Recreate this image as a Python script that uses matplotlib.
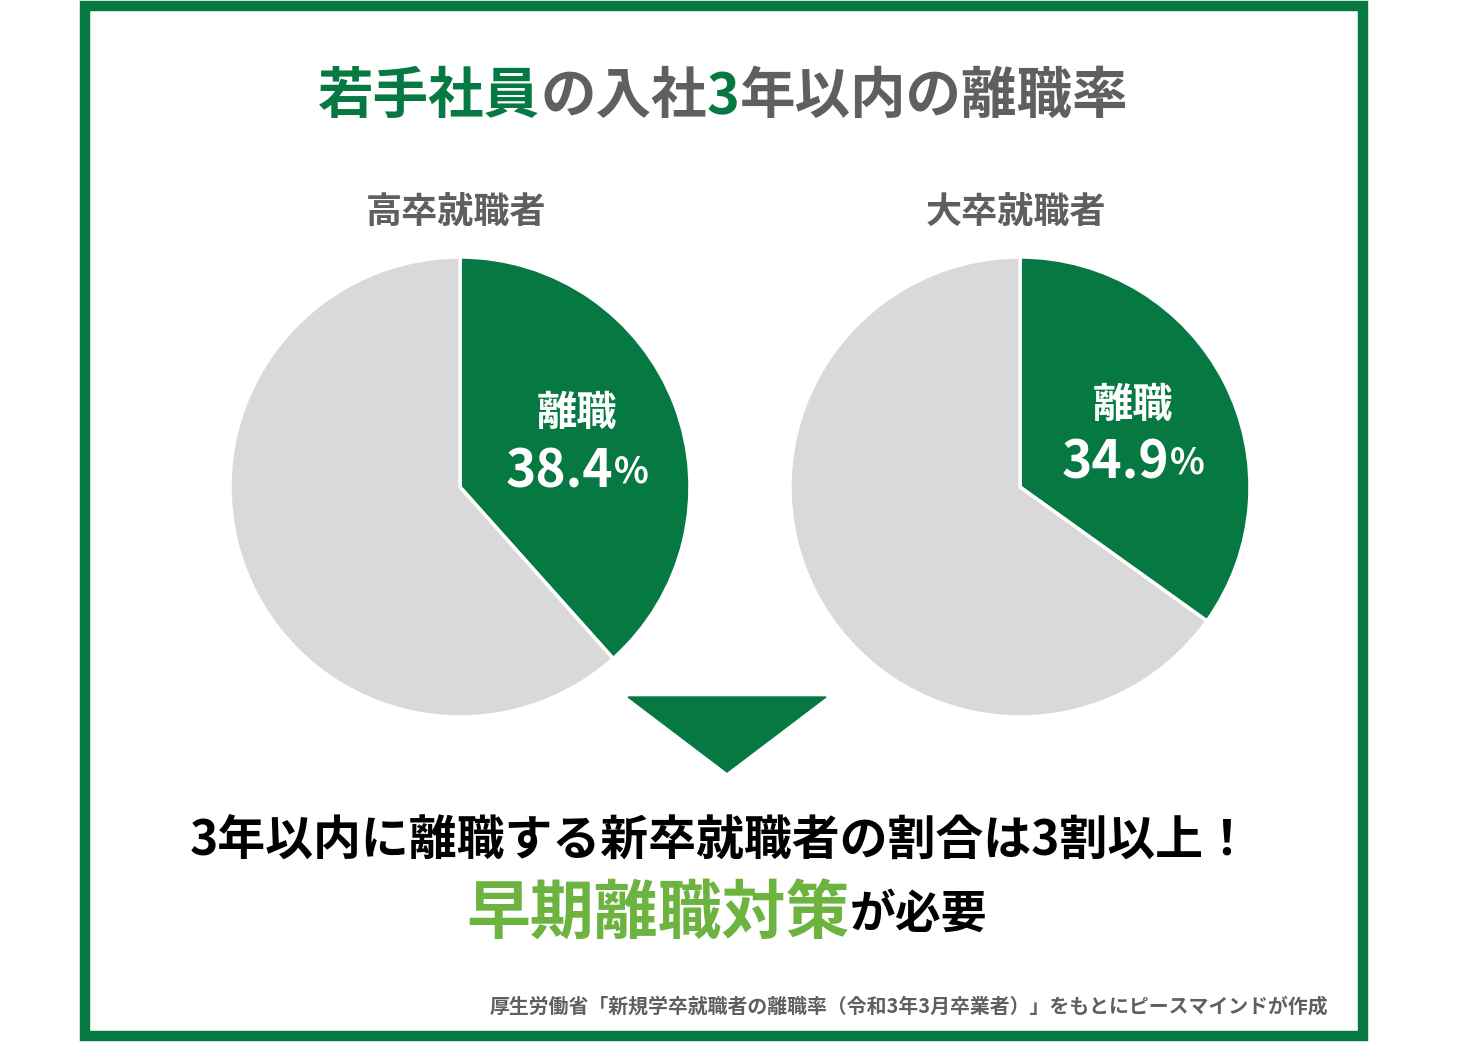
import matplotlib
matplotlib.use("Agg")
import matplotlib.pyplot as plt
from matplotlib.patches import Rectangle, Polygon

plt.rcParams['font.family'] = ['Noto Sans CJK JP', 'DejaVu Sans']

groups = ["高卒就職者", "大卒就職者"]
rates = [38.4, 34.9]
GREEN = "#067842"
GRAY = "#d9d9d9"
LGREEN = "#6db33f"
TGRAY = "#5f5f5f"

W, H = 1476, 1042
fig = plt.figure(figsize=(W/100, H/100), dpi=100)
ax = fig.add_axes([0, 0, 1, 1])
ax.set_xlim(0, W); ax.set_ylim(0, H); ax.axis('off')

def Y(y): return H - y

ax.add_patch(Rectangle((85, Y(1036)), 1278, 1030, fill=False, ec=GREEN, lw=7.5))

fig.canvas.draw()
r = fig.canvas.get_renderer()

def multi(y, parts, cx):
    texts = []
    total = 0
    for s, c, fs in parts:
        t = ax.text(0, Y(y), s, color=c, fontsize=fs, fontweight='bold', va='center', ha='left')
        w = t.get_window_extent(r).width
        texts.append((t, w)); total += w
    x = cx - total/2
    for t, w in texts:
        t.set_x(x); x += w

multi(97, [("若手社員", GREEN, 40), ("の入社", TGRAY, 40), ("3", GREEN, 40), ("年以内の離職率", TGRAY, 40)], 723)

centers = [(460, 487), (1020, 487)]
labpos = [(577, 413, 472), (1133, 405, 463)]
for g, rt, (cx, cy), (lx, ly1, ly2) in zip(groups, rates, centers, labpos):
    ax.pie([rt, 100-rt], colors=[GREEN, GRAY], startangle=90, counterclock=False,
           center=(cx, Y(cy)), radius=230, wedgeprops=dict(ec='white', lw=2.5), frame=True)
    ax.text(cx-4, Y(212), g, ha='center', va='center', fontsize=26, fontweight='bold', color=TGRAY)
    ax.text(lx, Y(ly1), "離職", ha='center', va='center', fontsize=29, fontweight='bold', color='white')
    multi(ly2, [(f"{rt}", 'white', 37), ("%", 'white', 26)], lx)

ax.set_xlim(0, W); ax.set_ylim(0, H); ax.set_aspect('auto'); ax.axis('off')

ax.add_patch(Polygon([(628, Y(697)), (826, Y(697)), (727, Y(772))], color=GREEN))

multi(840, [("3年以内に離職する新卒就職者の割合は3割以上！", 'black', 34.5)], 721)
multi(915, [("早期離職対策", LGREEN, 46), ("が必要", 'black', 33)], 727)
ax.text(1328, Y(1006), "厚生労働省「新規学卒就職者の離職率（令和3年3月卒業者）」をもとにピースマインドが作成",
        ha='right', va='center', fontsize=14.3, fontweight='bold', color=TGRAY)

fig.savefig("out.png", dpi=100)
